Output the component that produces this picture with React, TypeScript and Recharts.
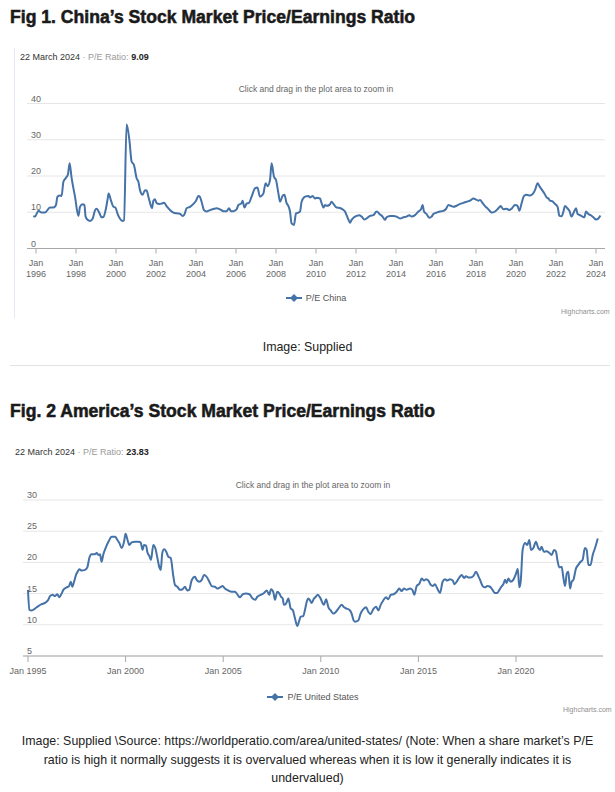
import React from "react";
import { LineChart, Line, XAxis, YAxis, CartesianGrid } from "recharts";

// ---------- Titles & captions ----------
const chinaTitle = "Fig 1. China\u2019s Stock Market Price/Earnings Ratio";
const usTitle = "Fig. 2 America\u2019s Stock Market Price/Earnings Ratio";
const chinaHeader = { date: "22 March 2024", label: "P/E Ratio:", value: "9.09" };
const usHeader = { date: "22 March 2024", label: "P/E Ratio:", value: "23.83" };
const chinaSeriesName = "P/E China";
const usSeriesName = "P/E United States";
const zoomHint = "Click and drag in the plot area to zoom in";
const creditText = "Highcharts.com";
const chinaCaption = ["Image: Supplied"];
const usCaption = [
  "Image: Supplied \\Source: https://worldperatio.com/area/united-states/ (Note: When a share market\u2019s P/E",
  "ratio is high it normally suggests it is overvalued whereas when it is low it generally indicates it is",
  "undervalued)",
];

// ---------- Axis ticks ----------
const chinaXTicks = [1996, 1998, 2000, 2002, 2004, 2006, 2008, 2010, 2012, 2014, 2016, 2018, 2020, 2022, 2024];
const chinaYTicks = [0, 10, 20, 30, 40];
const usXTicks = [1995, 2000, 2005, 2010, 2015, 2020];
const usYTicks = [5, 10, 15, 20, 25, 30];
const chinaXDomain = [1995.55, 2024.45];
const usXDomain = [1994.744, 2024.457];

// ---------- Series: [decimal year, P/E] ----------
const chinaPE: [number, number][] = [
  [1995.87, 9.0], [1995.95, 8.8], [1996.12, 10.4], [1996.28, 9.9], [1996.45, 9.9], [1996.7, 11.3],
  [1996.87, 11.3], [1997.0, 12.0], [1997.07, 14.3], [1997.2, 14.6], [1997.28, 14.5], [1997.37, 18.4],
  [1997.5, 19.5], [1997.6, 20.5], [1997.68, 23.5], [1997.78, 19.5], [1997.95, 14.3], [1998.12, 9.0],
  [1998.2, 11.5], [1998.33, 12.2], [1998.42, 12.0], [1998.48, 8.8], [1998.58, 7.9], [1998.7, 7.6],
  [1998.83, 8.2], [1998.95, 10.5], [1999.03, 11.0], [1999.17, 9.8], [1999.28, 8.6], [1999.37, 8.7],
  [1999.5, 11.1], [1999.58, 13.6], [1999.63, 15.2], [1999.75, 13.2], [1999.87, 11.5], [1999.97, 11.3],
  [2000.07, 9.7], [2000.2, 8.2], [2000.32, 7.6], [2000.4, 7.8], [2000.53, 34.3], [2000.67, 29.9],
  [2000.78, 24.0], [2000.9, 23.0], [2001.03, 19.4], [2001.12, 18.4], [2001.2, 16.1], [2001.33, 14.8],
  [2001.45, 16.1], [2001.53, 16.0], [2001.62, 14.3], [2001.73, 12.0], [2001.8, 11.1], [2001.87, 13.2],
  [2001.95, 13.6], [2002.03, 12.5], [2002.17, 12.3], [2002.28, 12.4], [2002.4, 12.6], [2002.53, 11.7],
  [2002.7, 10.6], [2002.87, 9.9], [2003.03, 9.7], [2003.2, 9.6], [2003.33, 9.0], [2003.42, 9.4],
  [2003.53, 11.1], [2003.7, 11.5], [2003.87, 12.3], [2004.0, 13.2], [2004.12, 14.5], [2004.2, 14.2],
  [2004.28, 12.9], [2004.4, 10.6], [2004.53, 10.2], [2004.7, 10.6], [2004.87, 10.9], [2005.03, 11.1],
  [2005.2, 10.8], [2005.37, 10.3], [2005.53, 10.3], [2005.65, 11.1], [2005.75, 10.3], [2005.87, 10.3],
  [2006.03, 10.8], [2006.12, 12.0], [2006.28, 12.5], [2006.33, 13.2], [2006.42, 11.3], [2006.53, 12.4],
  [2006.65, 12.6], [2006.78, 14.3], [2006.95, 16.6], [2007.07, 16.8], [2007.2, 14.3], [2007.37, 15.2],
  [2007.48, 18.0], [2007.58, 17.2], [2007.7, 18.9], [2007.78, 23.5], [2007.9, 19.8], [2008.0, 18.9],
  [2008.12, 15.2], [2008.2, 12.9], [2008.33, 14.5], [2008.42, 14.8], [2008.53, 12.5], [2008.62, 11.7],
  [2008.7, 10.2], [2008.78, 6.9], [2008.9, 6.5], [2009.0, 9.7], [2009.12, 9.9], [2009.2, 10.2],
  [2009.28, 12.9], [2009.45, 14.3], [2009.62, 14.5], [2009.7, 14.1], [2009.83, 14.5], [2009.95, 13.8],
  [2010.03, 14.0], [2010.2, 13.8], [2010.28, 12.5], [2010.37, 11.3], [2010.45, 12.0], [2010.53, 11.8],
  [2010.67, 12.0], [2010.78, 12.9], [2010.87, 12.3], [2011.03, 11.3], [2011.2, 11.2], [2011.33, 10.8],
  [2011.45, 10.2], [2011.53, 9.2], [2011.62, 8.0], [2011.7, 7.1], [2011.78, 7.9], [2011.9, 8.6],
  [2012.03, 9.0], [2012.17, 9.2], [2012.28, 8.8], [2012.42, 8.0], [2012.53, 8.3], [2012.7, 9.0],
  [2012.87, 9.2], [2013.03, 10.2], [2013.2, 9.4], [2013.33, 8.8], [2013.45, 7.9], [2013.53, 8.6],
  [2013.7, 9.0], [2013.87, 9.0], [2014.03, 8.8], [2014.2, 8.3], [2014.37, 8.6], [2014.53, 8.8],
  [2014.67, 9.2], [2014.78, 8.8], [2014.95, 9.2], [2015.12, 10.2], [2015.25, 10.8], [2015.33, 12.0],
  [2015.4, 10.2], [2015.53, 9.5], [2015.67, 8.5], [2015.78, 8.8], [2015.87, 9.5], [2016.03, 9.9],
  [2016.2, 10.2], [2016.37, 10.4], [2016.5, 10.9], [2016.62, 12.0], [2016.73, 11.8], [2016.87, 11.5],
  [2017.03, 11.8], [2017.2, 12.3], [2017.37, 12.6], [2017.53, 12.9], [2017.7, 13.2], [2017.87, 13.8],
  [2018.0, 13.5], [2018.12, 13.2], [2018.2, 13.4], [2018.33, 12.5], [2018.45, 11.7], [2018.62, 10.8],
  [2018.78, 9.9], [2018.95, 10.2], [2019.12, 11.1], [2019.23, 11.7], [2019.37, 10.8], [2019.53, 11.0],
  [2019.67, 10.6], [2019.78, 11.0], [2019.95, 12.0], [2020.07, 11.8], [2020.17, 10.4], [2020.28, 12.5],
  [2020.4, 14.5], [2020.53, 14.8], [2020.7, 14.6], [2020.83, 15.0], [2020.95, 16.1], [2021.08, 18.0],
  [2021.17, 17.2], [2021.28, 16.3], [2021.42, 15.2], [2021.53, 14.1], [2021.62, 13.8], [2021.7, 13.2],
  [2021.83, 13.0], [2021.95, 12.3], [2022.08, 11.5], [2022.17, 9.0], [2022.28, 8.9], [2022.37, 10.2],
  [2022.45, 11.7], [2022.57, 11.1], [2022.67, 10.4], [2022.78, 8.8], [2022.87, 9.7], [2023.0, 11.1],
  [2023.08, 9.5], [2023.2, 9.2], [2023.33, 8.8], [2023.42, 8.6], [2023.5, 10.2], [2023.62, 9.5],
  [2023.73, 9.2], [2023.87, 8.6], [2024.0, 8.0], [2024.12, 8.3], [2024.22, 9.09],
];

const usPE: [number, number][] = [
  [1995.0, 15.6], [1995.07, 12.4], [1995.19, 12.3], [1995.36, 12.6], [1995.53, 13.0], [1995.7, 13.3],
  [1995.87, 13.5], [1996.04, 14.0], [1996.13, 14.6], [1996.26, 14.8], [1996.38, 14.6], [1996.5, 14.9],
  [1996.61, 14.4], [1996.72, 15.0], [1996.81, 15.6], [1996.98, 16.0], [1997.1, 16.2], [1997.19, 16.9],
  [1997.27, 16.1], [1997.36, 16.9], [1997.46, 18.0], [1997.54, 18.5], [1997.63, 18.9], [1997.75, 18.7],
  [1997.92, 18.8], [1998.04, 19.2], [1998.14, 20.7], [1998.26, 21.3], [1998.4, 21.3], [1998.52, 21.5],
  [1998.6, 21.2], [1998.69, 21.3], [1998.77, 20.1], [1998.86, 21.3], [1999.0, 22.5], [1999.12, 23.3],
  [1999.29, 24.1], [1999.46, 24.1], [1999.58, 23.6], [1999.68, 23.1], [1999.8, 22.3], [1999.92, 23.3],
  [2000.0, 24.6], [2000.09, 23.7], [2000.19, 22.8], [2000.31, 23.2], [2000.48, 23.3], [2000.65, 23.3],
  [2000.77, 23.2], [2000.87, 22.0], [2000.94, 22.8], [2001.05, 22.7], [2001.11, 21.7], [2001.22, 21.0],
  [2001.3, 20.4], [2001.42, 22.8], [2001.52, 22.3], [2001.63, 20.7], [2001.73, 19.2], [2001.8, 18.8],
  [2001.88, 21.5], [2001.97, 22.1], [2002.07, 21.8], [2002.19, 20.9], [2002.31, 20.7], [2002.45, 17.7],
  [2002.53, 16.4], [2002.65, 16.1], [2002.79, 15.6], [2002.92, 15.7], [2003.04, 16.1], [2003.16, 15.5],
  [2003.26, 15.6], [2003.38, 17.1], [2003.55, 17.7], [2003.64, 17.2], [2003.78, 16.9], [2003.9, 17.2],
  [2004.02, 18.0], [2004.15, 17.7], [2004.29, 16.9], [2004.41, 16.2], [2004.58, 16.1], [2004.7, 15.8],
  [2004.84, 16.0], [2004.97, 16.2], [2005.09, 15.8], [2005.26, 15.5], [2005.43, 15.3], [2005.6, 15.3],
  [2005.74, 14.8], [2005.86, 14.4], [2006.0, 14.9], [2006.17, 15.0], [2006.34, 14.9], [2006.51, 14.2],
  [2006.63, 14.0], [2006.75, 14.5], [2006.92, 14.8], [2007.09, 15.1], [2007.23, 15.5], [2007.36, 14.8],
  [2007.45, 15.7], [2007.57, 15.2], [2007.65, 14.0], [2007.77, 15.3], [2007.88, 15.0], [2007.96, 14.5],
  [2008.05, 14.2], [2008.11, 13.2], [2008.22, 13.4], [2008.34, 14.2], [2008.46, 12.6], [2008.56, 12.4],
  [2008.68, 11.0], [2008.8, 9.8], [2008.88, 10.5], [2008.97, 11.3], [2009.1, 11.4], [2009.19, 12.4],
  [2009.28, 13.7], [2009.36, 14.2], [2009.45, 13.9], [2009.53, 13.5], [2009.65, 14.2], [2009.75, 14.5],
  [2009.84, 14.8], [2009.96, 14.4], [2010.16, 13.2], [2010.27, 14.1], [2010.39, 12.8], [2010.51, 12.3],
  [2010.64, 11.8], [2010.78, 12.1], [2010.9, 12.6], [2011.07, 13.2], [2011.19, 12.8], [2011.32, 12.6],
  [2011.46, 12.4], [2011.58, 11.8], [2011.67, 10.8], [2011.75, 10.5], [2011.92, 10.7], [2012.04, 11.8],
  [2012.18, 12.5], [2012.32, 12.8], [2012.43, 12.1], [2012.55, 11.7], [2012.69, 12.5], [2012.83, 12.9],
  [2012.95, 12.3], [2013.07, 13.2], [2013.2, 13.9], [2013.34, 14.4], [2013.46, 14.1], [2013.58, 14.8],
  [2013.72, 14.9], [2013.89, 15.3], [2014.02, 15.8], [2014.14, 15.4], [2014.26, 15.8], [2014.4, 15.6],
  [2014.57, 15.8], [2014.69, 15.6], [2014.79, 14.8], [2014.91, 16.2], [2015.05, 16.6], [2015.17, 17.4],
  [2015.29, 17.1], [2015.39, 17.3], [2015.51, 17.1], [2015.59, 16.6], [2015.73, 16.2], [2015.85, 16.5],
  [2015.97, 15.8], [2016.11, 15.1], [2016.24, 16.9], [2016.36, 17.3], [2016.48, 17.1], [2016.62, 17.3],
  [2016.76, 17.1], [2016.84, 16.5], [2016.96, 16.9], [2017.1, 17.6], [2017.22, 18.0], [2017.34, 17.5],
  [2017.44, 17.8], [2017.56, 17.6], [2017.68, 17.6], [2017.81, 17.8], [2017.95, 18.5], [2018.07, 17.8],
  [2018.16, 17.2], [2018.29, 16.2], [2018.41, 16.0], [2018.53, 16.2], [2018.67, 16.1], [2018.8, 15.6],
  [2018.92, 15.1], [2019.04, 15.1], [2019.15, 15.6], [2019.27, 16.2], [2019.35, 16.5], [2019.44, 17.2],
  [2019.52, 16.7], [2019.61, 17.4], [2019.73, 16.9], [2019.86, 17.2], [2020.0, 18.2], [2020.09, 19.0],
  [2020.17, 16.0], [2020.24, 16.9], [2020.34, 22.0], [2020.46, 23.1], [2020.58, 22.8], [2020.68, 23.6],
  [2020.77, 22.0], [2020.89, 22.3], [2021.02, 23.3], [2021.14, 22.3], [2021.23, 22.0], [2021.31, 22.5],
  [2021.43, 21.7], [2021.57, 21.8], [2021.71, 21.5], [2021.83, 21.2], [2021.95, 22.0], [2022.05, 21.7],
  [2022.12, 20.4], [2022.22, 19.2], [2022.34, 19.3], [2022.42, 17.7], [2022.51, 16.2], [2022.6, 18.2],
  [2022.68, 18.5], [2022.77, 15.8], [2022.85, 16.9], [2022.94, 17.2], [2023.07, 19.0], [2023.19, 19.6],
  [2023.31, 20.1], [2023.41, 20.4], [2023.53, 22.3], [2023.62, 22.0], [2023.71, 19.6], [2023.82, 19.6],
  [2023.93, 21.2], [2024.05, 22.3], [2024.19, 23.83],
];

const chinaData = chinaPE.map(([t, pe]) => ({ t, pe }));
const usData = usPE.map(([t, pe]) => ({ t, pe }));

// ---------- Styling ----------
const LINE_COLOR = "#4572A7";
const AXIS_COLOR = "#a8a8a8";
const GRID_COLOR = "#e6e6e6";
const LABEL_COLOR = "#666666";
const HC_FONT = "'Liberation Sans', Arial, Helvetica, sans-serif";

const YTick = (props: any) => {
  const { x, y, payload } = props;
  return (
    <text x={x + 4} y={y - 2} fontSize={9} fill={LABEL_COLOR} fontFamily={HC_FONT} textAnchor="start">
      {payload.value}
    </text>
  );
};

const ChinaXTick = (props: any) => {
  const { x, y, payload } = props;
  return (
    <text x={x} y={y + 10} fontSize={9} fill={LABEL_COLOR} fontFamily={HC_FONT} textAnchor="middle">
      <tspan x={x} dy={0}>Jan</tspan>
      <tspan x={x} dy={11}>{payload.value}</tspan>
    </text>
  );
};

const UsXTick = (props: any) => {
  const { x, y, payload } = props;
  return (
    <text x={x} y={y + 10} fontSize={9} fill={LABEL_COLOR} fontFamily={HC_FONT} textAnchor="middle">
      {"Jan " + payload.value}
    </text>
  );
};

const abs = (left: number, top: number, extra: React.CSSProperties = {}): React.CSSProperties => ({
  position: "absolute",
  left,
  top,
  ...extra,
});

const titleStyle: React.CSSProperties = {
  fontFamily: "'Liberation Sans', Arial, sans-serif",
  fontWeight: 700,
  fontSize: 17.6,
  color: "#1a1a1a",
  whiteSpace: "nowrap",
  WebkitTextStroke: "0.55px #1a1a1a",
  lineHeight: "20px",
};

const Header = ({ h }: { h: { date: string; label: string; value: string } }) => (
  <div style={{ fontFamily: HC_FONT, fontSize: 9, whiteSpace: "nowrap", lineHeight: "12px" }}>
    <span style={{ color: "#333" }}>{h.date}</span>
    <span style={{ color: "#9a9a9a" }}> {"\u00b7"} {h.label} </span>
    <span style={{ color: "#222", fontWeight: 700 }}>{h.value}</span>
  </div>
);

const LegendItem = ({ name }: { name: string }) => (
  <div style={{ display: "flex", alignItems: "center", justifyContent: "center", fontFamily: HC_FONT, fontSize: 9, color: "#555" }}>
    <svg width={16} height={10} style={{ marginRight: 4 }}>
      <line x1={0} y1={5} x2={16} y2={5} stroke={LINE_COLOR} strokeWidth={2} />
      <path d="M8 1 L12 5 L8 9 L4 5 Z" fill={LINE_COLOR} />
    </svg>
    <span>{name}</span>
  </div>
);

const Credit = () => (
  <div style={{ fontFamily: HC_FONT, fontSize: 7, color: "#909090", whiteSpace: "nowrap" }}>{creditText}</div>
);

const Hint = () => (
  <div style={{ fontFamily: HC_FONT, fontSize: 8.5, color: LABEL_COLOR, whiteSpace: "nowrap", textAlign: "center" }}>
    {zoomHint}
  </div>
);

export default function App() {
  return (
    <div style={{ position: "absolute", left: 0, top: 0, width: 615, height: 792, background: "#fff", overflow: "hidden" }}>
      {/* ---------------- Fig 1 ---------------- */}
      <div style={abs(10, 7, titleStyle)}>{chinaTitle}</div>
      <div style={abs(14, 48, { width: 1, height: 270, background: "#e4eaf1" })} />
      <div style={abs(20, 51)}><Header h={chinaHeader} /></div>
      <div style={abs(27, 84, { width: 578 })}><Hint /></div>

      <div style={abs(0, 0)}>
        <LineChart width={615} height={330} data={chinaData} margin={{ top: 103.5, right: 10, bottom: 0, left: 0 }}>
          <CartesianGrid horizontal vertical={false} stroke={GRID_COLOR} />
          <XAxis
            dataKey="t"
            type="number"
            domain={chinaXDomain}
            ticks={chinaXTicks}
            interval={0}
            allowDataOverflow
            height={81.5}
            tickSize={5}
            tickMargin={2}
            axisLine={{ stroke: AXIS_COLOR }}
            tickLine={{ stroke: AXIS_COLOR }}
            tick={<ChinaXTick />}
          />
          <YAxis
            type="number"
            domain={[0, 40]}
            ticks={chinaYTicks}
            interval={0}
            width={27}
            tickSize={0}
            tickMargin={0}
            axisLine={false}
            tickLine={false}
            tick={<YTick />}
          />
          <Line type="monotone" dataKey="pe" stroke={LINE_COLOR} strokeWidth={2} dot={false} isAnimationActive={false} />
        </LineChart>
      </div>

      <div style={abs(27, 293, { width: 578 })}><LegendItem name={chinaSeriesName} /></div>
      <div style={abs(561, 308)}><Credit /></div>
      <div style={abs(0, 340, { width: 615, textAlign: "center", fontFamily: HC_FONT, fontSize: 12.4, color: "#222" })}>
        {chinaCaption[0]}
      </div>
      <div style={abs(10, 365, { width: 600, height: 1, background: "#e2e2e2" })} />

      {/* ---------------- Fig 2 ---------------- */}
      <div style={abs(10, 401, titleStyle)}>{usTitle}</div>
      <div style={abs(15, 446)}><Header h={usHeader} /></div>
      <div style={abs(23, 480, { width: 580 })}><Hint /></div>

      <div style={abs(0, 400)}>
        <LineChart width={615} height={330} data={usData} margin={{ top: 100, right: 12, bottom: 0, left: 0 }}>
          <CartesianGrid horizontal vertical={false} stroke={GRID_COLOR} />
          <XAxis
            dataKey="t"
            type="number"
            domain={usXDomain}
            ticks={usXTicks}
            interval={0}
            allowDataOverflow
            height={74}
            tickSize={6}
            tickMargin={2}
            axisLine={{ stroke: AXIS_COLOR }}
            tickLine={{ stroke: AXIS_COLOR }}
            tick={<UsXTick />}
          />
          <YAxis
            type="number"
            domain={[5, 30]}
            ticks={usYTicks}
            interval={0}
            width={23}
            tickSize={0}
            tickMargin={0}
            axisLine={false}
            tickLine={false}
            tick={<YTick />}
          />
          <Line type="monotone" dataKey="pe" stroke={LINE_COLOR} strokeWidth={2} dot={false} isAnimationActive={false} />
        </LineChart>
      </div>

      <div style={abs(23, 692, { width: 580 })}><LegendItem name={usSeriesName} /></div>
      <div style={abs(563, 706)}><Credit /></div>
      <div
        style={abs(0, 732, {
          width: 615,
          textAlign: "center",
          fontFamily: HC_FONT,
          fontSize: 12.4,
          lineHeight: "18.5px",
          color: "#222",
        })}
      >
        {usCaption.map((line, i) => (
          <div key={i} style={{ whiteSpace: "nowrap" }}>{line}</div>
        ))}
      </div>
    </div>
  );
}
